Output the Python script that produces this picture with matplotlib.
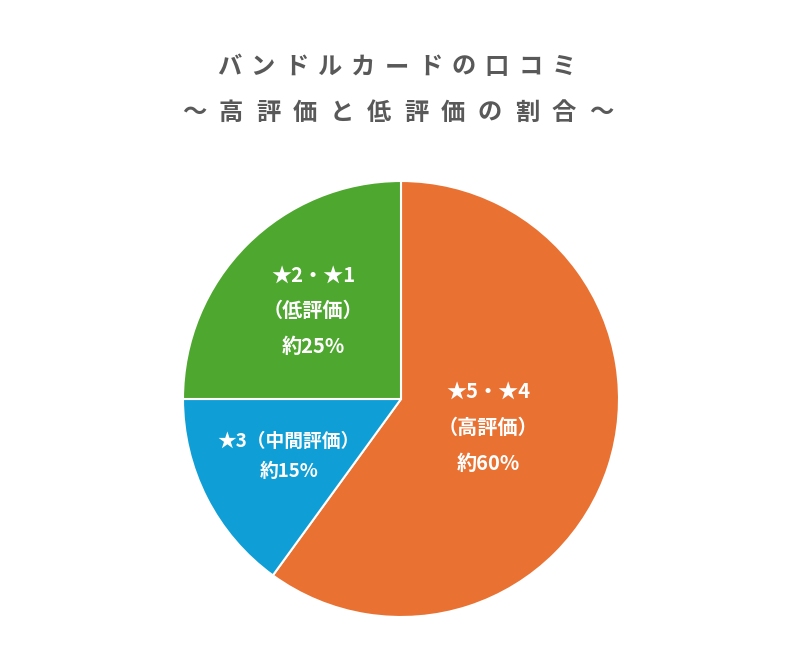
import matplotlib
matplotlib.use("Agg")
import matplotlib.pyplot as plt
import numpy as np

plt.rcParams['font.family'] = ['Noto Sans CJK JP', 'DejaVu Sans']

# data
title_line1 = "バンドルカードの口コミ"
title_line2 = "～高評価と低評価の割合～"
shares = [60, 15, 25]
colors = ['#E97132', '#0F9ED5', '#4EA72E']
labels = [
    ["★5・★4", "（高評価）", "約60%"],
    ["★3（中間評価）", "約15%"],
    ["★2・★1", "（低評価）", "約25%"],
]

W, H = 811, 663
fig = plt.figure(figsize=(W / 100, H / 100), dpi=100)

# pie axes: center (401, 399) px, radius 218 px
cx, cy, r = 401, 399, 218
ax = fig.add_axes([(cx - r) / W, (H - cy - r) / H, 2 * r / W, 2 * r / H])
wedges, _ = ax.pie(shares, colors=colors, startangle=90, counterclock=False,
                   wedgeprops=dict(edgecolor='white', linewidth=1.5))
ax.set_xlim(-1, 1)
ax.set_ylim(-1, 1)
ax.set_aspect('equal')
ax.axis('off')

label_dist = [0.42, 0.578, 0.571]
label_size = [14.5, 13.5, 14.5]
line_gap = [36, 30, 36]  # px between lines
for w, lines, d, fs, gap in zip(wedges, labels, label_dist, label_size, line_gap):
    mid = np.deg2rad((w.theta1 + w.theta2) / 2)
    x, y = d * np.cos(mid), d * np.sin(mid)
    n = len(lines)
    for i, line in enumerate(lines):
        off = ((n - 1) / 2 - i) * gap * 72 / 100
        ax.annotate(line, (x, y), xytext=(0, off), textcoords='offset points',
                    ha='center', va='center', color='white',
                    fontsize=fs, fontweight='bold')

# spaced title
def spaced(text, y_px, x_first, x_last, size):
    step = (x_last - x_first) / (len(text) - 1)
    for i, ch in enumerate(text):
        fig.text((x_first + i * step) / W, 1 - y_px / H, ch, ha='center', va='center',
                 fontsize=size, fontweight='bold', color='#595959')

spaced(title_line1, 67, 229, 564, 17.5)
spaced(title_line2, 113, 194, 601, 17.5)

fig.savefig('out.png', dpi=100, facecolor='white')
